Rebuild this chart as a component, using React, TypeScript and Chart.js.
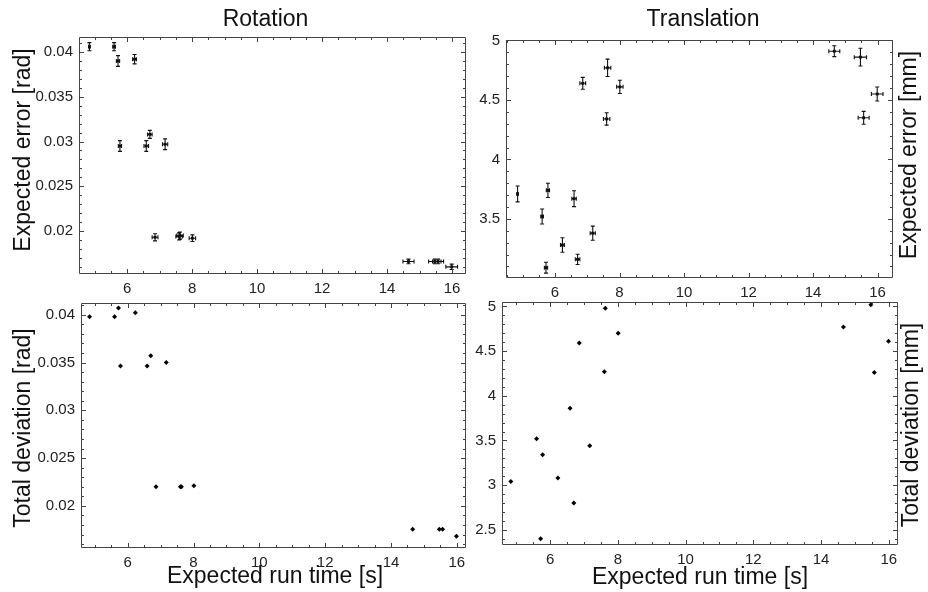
import React, { useEffect, useRef } from "react";
import { Chart, registerables } from "chart.js";

Chart.register(...registerables);

const FONT = "'Liberation Sans', Arial, Helvetica, sans-serif";

// ---- data (shared run time axis) ----
const runTime = [4.84, 5.6, 5.72, 5.78, 6.23, 6.59, 6.7, 6.86, 7.17, 7.6, 7.63, 8.01, 14.66, 15.47, 15.57, 15.99];
const runTimeErr = [0.02, 0.04, 0.05, 0.05, 0.06, 0.07, 0.07, 0.09, 0.08, 0.1, 0.1, 0.1, 0.17, 0.19, 0.17, 0.18];

const rotExpected = [0.0406, 0.0406, 0.039, 0.0295, 0.0392, 0.0295, 0.0308, 0.0193, 0.0297, 0.0194, 0.0195, 0.0192, 0.0166, 0.0166, 0.0166, 0.016];
const rotExpectedErr = [0.00045, 0.00045, 0.0006, 0.0006, 0.00052, 0.0006, 0.00045, 0.0004, 0.0006, 0.0004, 0.0004, 0.00037, 0.00026, 0.00026, 0.00026, 0.0003];

const transExpected = [3.71, 3.52, 3.09, 3.74, 3.28, 3.67, 3.16, 4.64, 3.38, 4.34, 4.77, 4.61, 4.91, 4.86, 4.35, 4.55];
const transExpectedErr = [0.067, 0.063, 0.046, 0.06, 0.061, 0.067, 0.043, 0.05, 0.059, 0.052, 0.073, 0.056, 0.046, 0.075, 0.054, 0.059];

const rotDeviation = [0.0398, 0.0398, 0.0407, 0.03465, 0.0402, 0.03465, 0.0357, 0.022, 0.035, 0.022, 0.022, 0.0221, 0.01757, 0.01757, 0.01757, 0.01683];
const transDeviation = [3.04, 3.52, 2.4, 3.34, 3.08, 3.86, 2.8, 4.59, 3.44, 4.27, 4.98, 4.7, 4.77, 5.02, 4.26, 4.61];

// ---- tick labels ----
const xTickLabels = [6, 8, 10, 12, 14, 16];
const rotTickLabels = [0.02, 0.025, 0.03, 0.035, 0.04];
const transExpTickLabels = [3.5, 4, 4.5, 5];
const transDevTickLabels = [2.5, 3, 3.5, 4, 4.5, 5];

const FRAME = "#444444";
const LABEL = "#222222";

type Area = { l: number; t: number; r: number; b: number };
type PanelCfg = {
  area: Area;
  xMin: number;
  xMax: number;
  yMin: number;
  yMax: number;
  yTicks: number[];
  yMajor: number;
  yMinor: number;
  yVals: number[];
  yErr?: number[];
  radius: number;
  style: string;
};

const frameTicks = {
  id: "frameTicks",
  afterDraw(chart: any, _a: any, opts: any) {
    const { ctx, chartArea: a } = chart;
    const xs = chart.scales.x;
    const ys = chart.scales.y;
    ctx.save();
    ctx.strokeStyle = FRAME;
    ctx.lineWidth = 1;
    ctx.beginPath();
    ctx.rect(a.left + 0.5, a.top + 0.5, a.right - a.left - 1, a.bottom - a.top - 1);
    ctx.stroke();
    const each = (scale: any, step: number, fn: (v: number) => void) => {
      const k0 = Math.ceil(scale.min / step - 1e-6);
      const k1 = Math.floor(scale.max / step + 1e-6);
      for (let k = k0; k <= k1; k++) fn(k * step);
    };
    const isMajor = (v: number, step: number) => Math.abs(v / step - Math.round(v / step)) < 1e-6;
    ctx.beginPath();
    each(xs, opts.xMinor, (v) => {
      const len = isMajor(v, opts.xMajor) ? 5 : 3;
      const p = Math.round(xs.getPixelForValue(v)) + 0.5;
      ctx.moveTo(p, a.bottom);
      ctx.lineTo(p, a.bottom - len);
      ctx.moveTo(p, a.top);
      ctx.lineTo(p, a.top + len);
    });
    each(ys, opts.yMinor, (v) => {
      const len = isMajor(v, opts.yMajor) ? 5 : 3;
      const p = Math.round(ys.getPixelForValue(v)) + 0.5;
      ctx.moveTo(a.left, p);
      ctx.lineTo(a.left + len, p);
      ctx.moveTo(a.right, p);
      ctx.lineTo(a.right - len, p);
    });
    ctx.stroke();
    ctx.restore();
  },
};

const errorBars = {
  id: "errorBars",
  afterDatasetsDraw(chart: any, _a: any, opts: any) {
    if (!opts || !opts.yErr) return;
    const { ctx } = chart;
    const xs = chart.scales.x;
    const ys = chart.scales.y;
    const pts = chart.data.datasets[0].data as { x: number; y: number }[];
    const cap = 2;
    ctx.save();
    ctx.strokeStyle = "#111";
    ctx.lineWidth = 1.1;
    ctx.beginPath();
    pts.forEach((p, i) => {
      const px = xs.getPixelForValue(p.x);
      const py = ys.getPixelForValue(p.y);
      const ex = opts.xErr[i];
      const ey = opts.yErr[i];
      const x0 = xs.getPixelForValue(p.x - ex);
      const x1 = xs.getPixelForValue(p.x + ex);
      const y0 = ys.getPixelForValue(p.y - ey);
      const y1 = ys.getPixelForValue(p.y + ey);
      ctx.moveTo(px, y0);
      ctx.lineTo(px, y1);
      ctx.moveTo(px - cap, y0);
      ctx.lineTo(px + cap, y0);
      ctx.moveTo(px - cap, y1);
      ctx.lineTo(px + cap, y1);
      ctx.moveTo(x0, py);
      ctx.lineTo(x1, py);
      ctx.moveTo(x0, py - cap);
      ctx.lineTo(x0, py + cap);
      ctx.moveTo(x1, py - cap);
      ctx.lineTo(x1, py + cap);
    });
    ctx.stroke();
    ctx.restore();
  },
};

const YW = 50;
const XH = 34;
const PT = 20;
const PR = 20;

function Panel({ cfg }: { cfg: PanelCfg }) {
  const ref = useRef<HTMLCanvasElement>(null);
  const { area } = cfg;
  const w = YW + (area.r - area.l) + PR;
  const h = PT + (area.b - area.t) + XH;
  useEffect(() => {
    if (!ref.current) return;
    const chart = new Chart(ref.current, {
      type: "scatter",
      data: {
        datasets: [
          {
            data: runTime.map((x, i) => ({ x, y: cfg.yVals[i] })),
            backgroundColor: "#000",
            borderColor: "#000",
            borderWidth: 0,
            pointRadius: cfg.radius,
            pointStyle: cfg.style,
          },
        ],
      },
      options: {
        responsive: false,
        animation: false,
        events: [],
        layout: { padding: { top: PT, right: PR, left: 0, bottom: 0 } },
        plugins: {
          legend: { display: false },
          tooltip: { enabled: false },
          frameTicks: { xMajor: 2, xMinor: 0.5, yMajor: cfg.yMajor, yMinor: cfg.yMinor },
          errorBars: cfg.yErr ? { xErr: runTimeErr, yErr: cfg.yErr } : {},
        } as any,
        scales: {
          x: {
            type: "linear",
            min: cfg.xMin,
            max: cfg.xMax,
            grid: { display: false, drawTicks: false },
            border: { display: false },
            afterBuildTicks: (s: any) => {
              s.ticks = xTickLabels.map((v) => ({ value: v }));
            },
            afterFit: (s: any) => {
              s.height = XH;
            },
            ticks: {
              autoSkip: false,
              maxRotation: 0,
              padding: 6,
              color: LABEL,
              font: { family: FONT, size: 15 },
              callback: (v: any) => String(v),
            },
          },
          y: {
            type: "linear",
            min: cfg.yMin,
            max: cfg.yMax,
            grid: { display: false, drawTicks: false },
            border: { display: false },
            afterBuildTicks: (s: any) => {
              s.ticks = cfg.yTicks.map((v) => ({ value: v }));
            },
            afterFit: (s: any) => {
              s.width = YW;
            },
            ticks: {
              autoSkip: false,
              padding: 6,
              color: LABEL,
              font: { family: FONT, size: 15 },
              callback: (v: any) => String(v),
            },
          },
        },
      } as any,
      plugins: [frameTicks as any, errorBars as any],
    });
    return () => chart.destroy();
  }, []);
  return (
    <canvas
      ref={ref}
      width={w}
      height={h}
      style={{ position: "absolute", left: area.l - YW, top: area.t - PT, width: w, height: h }}
    />
  );
}

const panels: PanelCfg[] = [
  {
    area: { l: 79, t: 37, r: 466, b: 274 },
    xMin: 4.52, xMax: 16.43, yMin: 0.0152, yMax: 0.04168,
    yTicks: rotTickLabels, yMajor: 0.005, yMinor: 0.001,
    yVals: rotExpected, yErr: rotExpectedErr, radius: 2, style: "rect",
  },
  {
    area: { l: 506, t: 40, r: 893, b: 278 },
    xMin: 4.48, xMax: 16.48, yMin: 3.003, yMax: 5.004,
    yTicks: transExpTickLabels, yMajor: 0.5, yMinor: 0.1,
    yVals: transExpected, yErr: transExpectedErr, radius: 2, style: "rect",
  },
  {
    area: { l: 81, t: 303, r: 466, b: 548 },
    xMin: 4.58, xMax: 16.28, yMin: 0.0156, yMax: 0.04123,
    yTicks: rotTickLabels, yMajor: 0.005, yMinor: 0.001,
    yVals: rotDeviation, radius: 2.5, style: "rectRot",
  },
  {
    area: { l: 502, t: 302, r: 898, b: 545 },
    xMin: 4.58, xMax: 16.27, yMin: 2.33, yMax: 5.05,
    yTicks: transDevTickLabels, yMajor: 0.5, yMinor: 0.1,
    yVals: transDeviation, radius: 2.5, style: "rectRot",
  },
];

type Txt = { text: string; x: number; y: number; rot?: boolean };
const texts: Txt[] = [
  { text: "Rotation", x: 265.5, y: 18 },
  { text: "Translation", x: 703, y: 18 },
  { text: "Expected error [rad]", x: 22, y: 150, rot: true },
  { text: "Total deviation [rad]", x: 22, y: 428, rot: true },
  { text: "Expected error [mm]", x: 908, y: 155, rot: true },
  { text: "Total deviation [mm]", x: 910, y: 425, rot: true },
  { text: "Expected run time [s]", x: 275, y: 575 },
  { text: "Expected run time [s]", x: 700, y: 576 },
];

export default function App() {
  return (
    <div style={{ position: "absolute", left: 0, top: 0, width: 928, height: 592, background: "#fff", overflow: "hidden" }}>
      {panels.map((p, i) => (
        <Panel key={i} cfg={p} />
      ))}
      {texts.map((t, i) => (
        <div
          key={"t" + i}
          style={{
            position: "absolute",
            left: t.x,
            top: t.y,
            transform: `translate(-50%, -50%)${t.rot ? " rotate(-90deg)" : ""}`,
            whiteSpace: "nowrap",
            fontFamily: FONT,
            fontSize: 23,
            lineHeight: "23px",
            color: "#111",
          }}
        >
          {t.text}
        </div>
      ))}
    </div>
  );
}
